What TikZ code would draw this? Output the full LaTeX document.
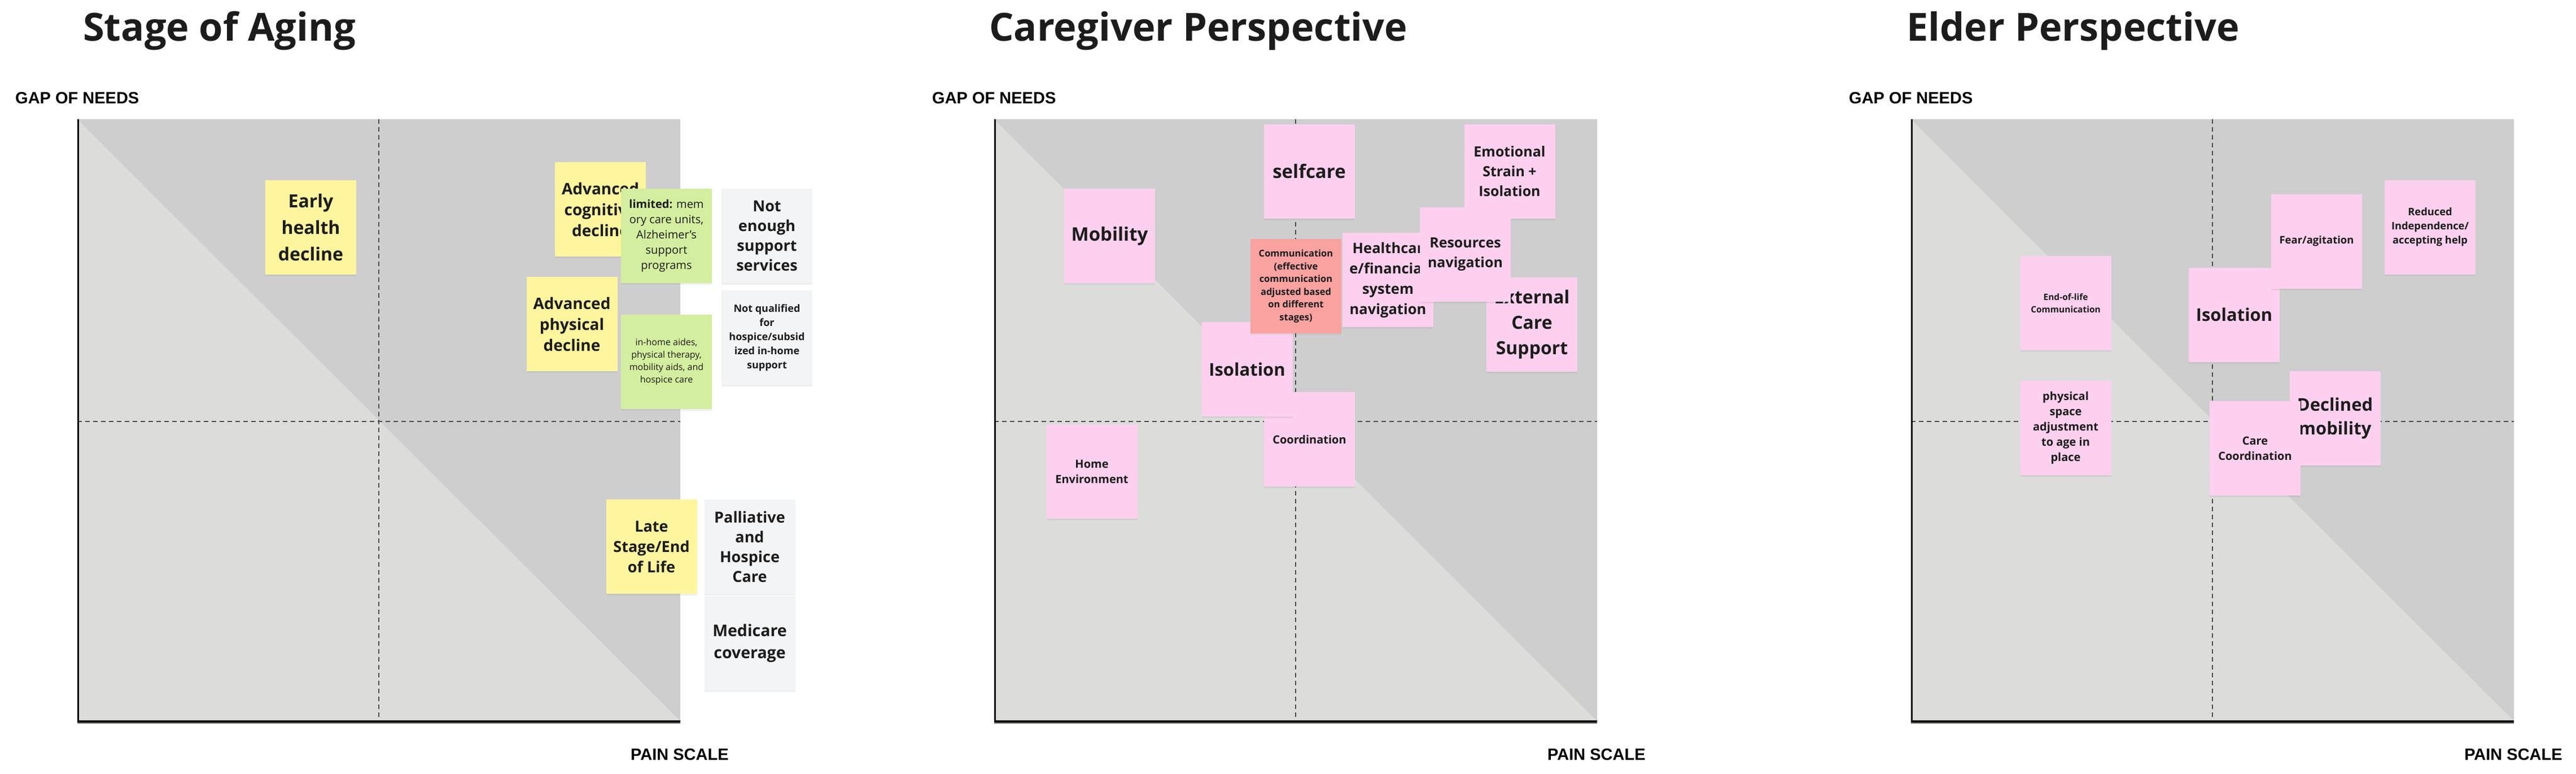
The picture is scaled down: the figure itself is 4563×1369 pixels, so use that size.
\documentclass[tikz,border=0pt]{standalone}
\usepackage{fontspec}
\setmainfont{Open Sans}
\newfontfamily\axisfont{Liberation Sans}
\usetikzlibrary{shadows}
\definecolor{lightbg}{HTML}{DCDCDB}
\definecolor{darkbg}{HTML}{CECECE}
\definecolor{ink}{HTML}{1C1C1C}
\definecolor{stickyyellow}{HTML}{FEF59E}
\definecolor{stickygreen}{HTML}{D3EE9E}
\definecolor{stickygray}{HTML}{F3F4F6}
\definecolor{stickypink}{HTML}{FCD0EE}
\definecolor{stickyred}{HTML}{F9A2A0}
\definecolor{dashgray}{HTML}{4A4A4A}
\newcommand\fs[2]{\fontsize{#1}{#2}\selectfont}
\tikzset{
  sticky/.style={minimum width=161pt, minimum height=167pt, inner sep=0pt,
    align=center, text=ink,
    drop shadow={shadow xshift=0pt, shadow yshift=-3pt, opacity=0.12}},
  yel/.style={sticky, fill=stickyyellow},
  grn/.style={sticky, fill=stickygreen},
  gry/.style={sticky, fill=stickygray},
  pnk/.style={sticky, fill=stickypink},
  red/.style={sticky, fill=stickyred},
  dashline/.style={draw=dashgray, line width=1.5pt, dash pattern=on 8pt off 6pt},
  titletext/.style={anchor=base west, inner sep=0pt, text=ink, font=\fs{68.5}{80}\bfseries},
  axislabel/.style={anchor=base west, inner sep=0pt, text=black, font=\axisfont\fs{29}{34}\bfseries}
}
\begin{document}
\begin{tikzpicture}[x=1pt,y=-1pt]
\useasboundingbox (0,0) rectangle (4563,1369);
\fill[white] (0,0) rectangle (4563,1369);

% ---------- three charts ----------
\foreach \dx in {0,1624,3248}{
  \begin{scope}[xshift=\dx pt]
    \fill[lightbg] (137,211) rectangle (1205,1276);
    \fill[darkbg] (137,211) -- (1205,211) -- (1205,1276) -- cycle;
    \draw[dashline] (671,211) -- (671,1276);
    \draw[dashline] (137,746) -- (1205,746);
    \draw[line width=3pt, black] (138.5,211) -- (138.5,1277);
    \draw[line width=2pt, gray] (137,1279.5) -- (1205,1279.5);
    \draw[line width=4pt, black] (137,1276.5) -- (1205,1276.5);
  \end{scope}
}

% ---------- titles and axis labels ----------
\node[titletext] (t1) at (147,72) {Stage of Aging};
\node[titletext] (t2) at (1752,72) {Caregiver Perspective};
\node[titletext] (t3) at (3377,72) {Elder Perspective};

\node[axislabel] (g1) at (27,183) {GAP OF NEEDS};
\node[axislabel] (g2) at (1651,183) {GAP OF NEEDS};
\node[axislabel] (g3) at (3275,183) {GAP OF NEEDS};

\node[axislabel] (p1) at (1117,1345) {PAIN SCALE};
\node[axislabel] (p2) at (2741,1345) {PAIN SCALE};
\node[axislabel] (p3) at (4365,1345) {PAIN SCALE};

% ---------- chart 1: Stage of Aging ----------
\node[yel, font=\fs{32}{47}\bfseries] (early) at (550.5,402.5) {Early\\health\\decline};
\node[yel, font=\fs{28}{37}\bfseries] (advcog) at (1063.5,370.5) {Advanced\\cognitive\\decline};
\node[grn, font=\fs{20}{27}] (limited) at (1180.5,417.5) {\textbf{limited:} mem\\ory care units,\\Alzheimer’s\\support\\programs};
\node[gry, font=\fs{27}{35}\bfseries] (notenough) at (1358.5,417.5) {Not\\enough\\support\\services};
\node[yel, font=\fs{28}{37}\bfseries] (advphys) at (1013,573.5) {Advanced\\physical\\decline};
\node[grn, font=\fs{16}{22}] (inhome) at (1180.5,640.5) {in-home aides,\\physical therapy,\\mobility aids, and\\hospice care};
\node[gry, font=\fs{18}{25}\bfseries] (notqual) at (1358.5,597.5) {Not qualified\\for\\hospice/subsid\\ized in-home\\support};
\node[yel, font=\fs{27}{36}\bfseries] (late) at (1154,967.5) {Late\\Stage/End\\of Life};
\node[gry, font=\fs{27}{35}\bfseries] (palliative) at (1328,967.5) {Palliative\\and\\Hospice\\Care};
\node[gry, font=\fs{28.5}{39}\bfseries] (medicare) at (1328,1138.5) {Medicare\\coverage};

% ---------- chart 2: Caregiver Perspective ----------
\node[pnk, font=\fs{20}{27}\bfseries] (homeenv) at (1934,834.5) {Home\\Environment};
\node[pnk, font=\fs{33}{44}\bfseries] (mobility) at (1965.5,417.5) {Mobility};
\node[pnk, font=\fs{33}{44}\bfseries] (selfcare) at (2319,303.5) {selfcare};
\node[pnk, font=\fs{25}{35}\bfseries] (emotional) at (2674,303.5) {Emotional\\Strain +\\Isolation};
\node[pnk, font=\fs{20}{27}\bfseries] (coordination) at (2319.5,777.5) {Coordination};
\node[pnk, font=\fs{31}{42}\bfseries] (isolationA) at (2209,653.5) {Isolation};
\node[red, font=\fs{16.5}{22.5}\bfseries] (communication) at (2295.5,506.5) {Communication\\(effective\\communication\\adjusted based\\on different\\stages)};
\node[pnk, font=\fs{25.5}{36}\bfseries] (healthcare) at (2458.5,495.5) {Healthcar\\e/financial\\system\\navigation};
\node[pnk, font=\fs{32}{45}\bfseries] (external) at (2713.5,574.5) {External\\Care\\Support};
\node[pnk, font=\fs{25}{35}\bfseries] (resources) at (2595.5,450.5) {Resources\\navigation};

% ---------- chart 3: Elder Perspective ----------
\node[pnk, font=\fs{31}{42}\bfseries] (isolationB) at (3957.5,557) {Isolation};
\node[pnk, font=\fs{18.5}{25}\bfseries] (fear) at (4103.5,427) {Fear/agitation};
\node[pnk, font=\fs{18.3}{25}\bfseries] (reduced) at (4304.5,402) {Reduced\\Independence/\\accepting help};
\node[pnk, font=\fs{15.5}{22}\bfseries] (endoflife) at (3659,536.5) {End-of-life\\Communication};
\node[pnk, font=\fs{20}{27}\bfseries] (physical) at (3659,757.5) {physical\\space\\adjustment\\to age in\\place};
\node[pnk, font=\fs{31}{42}\bfseries] (declined) at (4136,740) {Declined\\mobility};
\node[pnk, font=\fs{20}{27}\bfseries] (carecoord) at (3994.5,793.5) {Care\\Coordination};
\end{tikzpicture}
\end{document}
